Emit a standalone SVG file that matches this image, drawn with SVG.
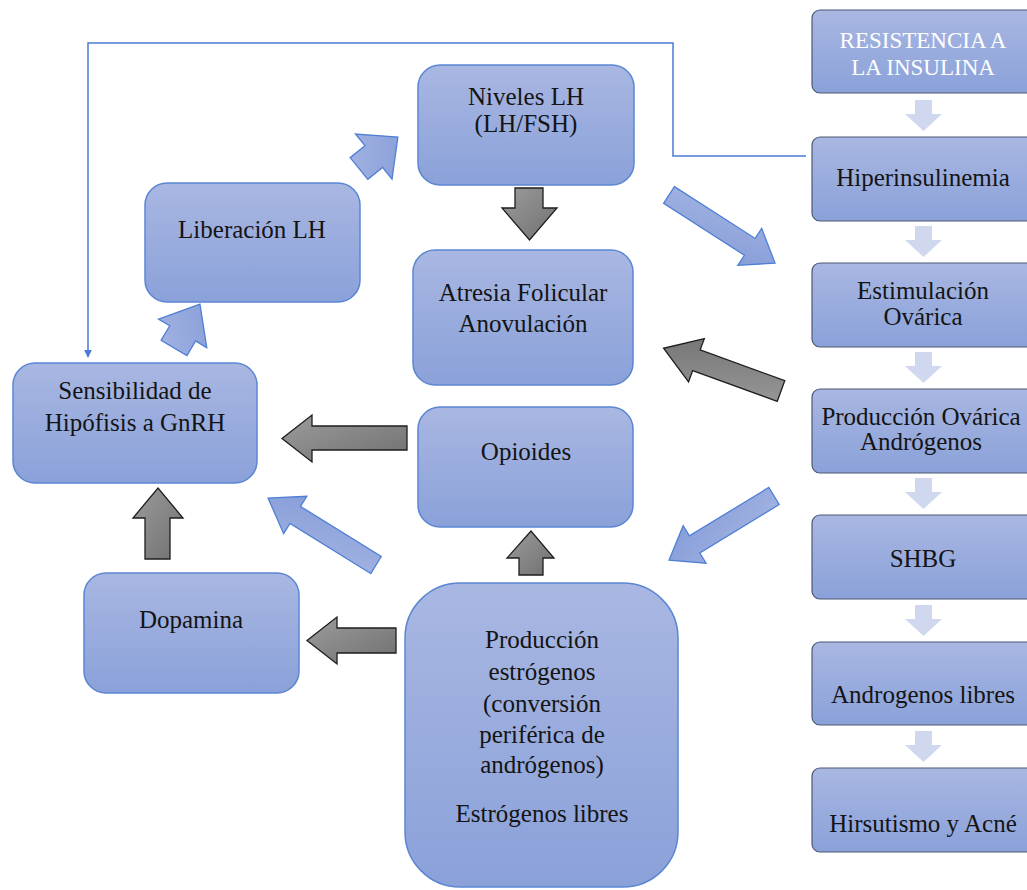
<svg xmlns="http://www.w3.org/2000/svg" width="1027" height="890" viewBox="0 0 1027 890">
<defs>
<linearGradient id="gBox" x1="0" y1="0" x2="0" y2="1">
<stop offset="0" stop-color="#a9b7e2"/>
<stop offset="1" stop-color="#8aa1d9"/>
</linearGradient>
<linearGradient id="gBlue" x1="0" y1="0" x2="1" y2="1">
<stop offset="0" stop-color="#a4b4e2"/>
<stop offset="1" stop-color="#859cd8"/>
</linearGradient>
<linearGradient id="gGray" x1="0" y1="0" x2="1" y2="1">
<stop offset="0" stop-color="#9c9c9c"/>
<stop offset="1" stop-color="#707070"/>
</linearGradient>
<marker id="mArr" viewBox="0 0 10 10" refX="9" refY="5" markerWidth="8" markerHeight="8" markerUnits="userSpaceOnUse" orient="auto">
<path d="M0,0 L10,5 L0,10 z" fill="#4a7bd4"/>
</marker>
<style>
.box{fill:url(#gBox);stroke:#5b86d3;stroke-width:1.5}
.rbox{fill:url(#gBox);stroke:#4d5873;stroke-width:1.2}
.t{font-family:"Liberation Serif","Times New Roman",serif;font-size:25px;fill:#141414;text-anchor:middle}
.tw{font-family:"Liberation Serif","Times New Roman",serif;font-size:23px;fill:#ffffff;text-anchor:middle}
.ga{fill:url(#gGray);stroke:#1e1e1e;stroke-width:1.3;stroke-linejoin:miter}
.ba{fill:url(#gBlue);stroke:#4f7fd5;stroke-width:1.3}
.la{fill:#d0d8ef}
.ln{fill:none;stroke:#4a7bd4;stroke-width:1.5}
</style>
</defs>
<rect width="1027" height="890" fill="#ffffff"/>

<g id="connectors">
<polyline class="ln" points="806,156 673,156 673,43 88,43 88,357" marker-end="url(#mArr)"/>
<polygon class="la" points="915,100 932,100 932,114 942,114 923.5,131 905,114 915,114"/>
<polygon class="la" points="915,226 932,226 932,240 942,240 923.5,257 905,240 915,240"/>
<polygon class="la" points="915,352 932,352 932,366 942,366 923.5,383 905,366 915,366"/>
<polygon class="la" points="915,478 932,478 932,492 942,492 923.5,509 905,492 915,492"/>
<polygon class="la" points="915,605 932,605 932,619 942,619 923.5,636 905,619 915,619"/>
<polygon class="la" points="915,731 932,731 932,745 942,745 923.5,762 905,745 915,745"/>
<polygon class="ga" points="515,188 543,188 543,208 557,208 529.5,240 502,208 515,208"/>
<polygon class="ga" points="407,426 312,426 312,415 282,438.5 312,462 312,450 407,450"/>
<polygon class="ga" points="145,559 145,518 133,518 158,488 183,518 170,518 170,559"/>
<polygon class="ga" points="396,628 337,628 337,617 307,640.5 337,664 337,653 396,653"/>
<polygon class="ga" points="519,575 519,558 507,558 531,531 554,558 543,558 543,575"/>
<polygon class="ga" transform="translate(781,391) rotate(200)" points="0,-11 90,-11 90,-23 125,0 90,23 90,11 0,11"/>
<polygon class="ba" transform="translate(669,195) rotate(32.7)" points="0,-10 96,-10 96,-22 126,0 96,22 96,10 0,10"/>
<polygon class="ba" transform="translate(774,496) rotate(148.6)" points="0,-10 93,-10 93,-22 123,0 93,22 93,10 0,10"/>
<polygon class="ba" transform="translate(376,565) rotate(211.8)" points="0,-10 95,-10 95,-22 127,0 95,22 95,10 0,10"/>
<polygon class="ba" transform="translate(174,348) rotate(-59.4)" points="0,-15 17,-15 17,-28 51,0 17,28 17,15 0,15"/>
<polygon class="ba" transform="translate(359,168.5) rotate(-39)" points="0,-14 19,-14 19,-29 50,0 19,29 19,14 0,14"/>
</g>

<g id="n-resistencia">
<rect class="rbox" x="812" y="10" width="225" height="83" rx="8"/>
<text class="tw" x="923" y="48">RESISTENCIA A</text>
<text class="tw" x="923" y="75">LA INSULINA</text>
</g>
<g id="n-hiperinsulinemia">
<rect class="rbox" x="812" y="137" width="225" height="84" rx="8"/>
<text class="t" x="923" y="186">Hiperinsulinemia</text>
</g>
<g id="n-estimulacion">
<rect class="rbox" x="812" y="263" width="225" height="84" rx="8"/>
<text class="t" x="923" y="299">Estimulación</text>
<text class="t" x="923" y="325">Ovárica</text>
</g>
<g id="n-produccion-ovarica">
<rect class="rbox" x="812" y="389" width="225" height="84" rx="8"/>
<text class="t" x="921" y="425">Producción Ovárica</text>
<text class="t" x="921" y="450">Andrógenos</text>
</g>
<g id="n-shbg">
<rect class="rbox" x="812" y="515" width="225" height="84" rx="8"/>
<text class="t" x="923" y="567">SHBG</text>
</g>
<g id="n-androgenos-libres">
<rect class="rbox" x="812" y="642" width="225" height="83" rx="8"/>
<text class="t" x="923" y="703">Androgenos libres</text>
</g>
<g id="n-hirsutismo">
<rect class="rbox" x="812" y="768" width="225" height="84" rx="8"/>
<text class="t" x="923" y="832">Hirsutismo y Acné</text>
</g>

<g id="n-niveles-lh">
<rect class="box" x="418" y="65" width="216" height="120" rx="22"/>
<text class="t" x="526" y="105">Niveles LH</text>
<text class="t" x="526" y="132">(LH/FSH)</text>
</g>
<g id="n-atresia">
<rect class="box" x="413" y="250" width="220" height="135" rx="22"/>
<text class="t" x="523" y="301">Atresia Folicular</text>
<text class="t" x="523" y="332">Anovulación</text>
</g>
<g id="n-liberacion-lh">
<rect class="box" x="145" y="183" width="215" height="119" rx="22"/>
<text class="t" x="252" y="238">Liberación LH</text>
</g>
<g id="n-sensibilidad">
<rect class="box" x="13" y="363" width="244" height="120" rx="22"/>
<text class="t" x="135" y="399">Sensibilidad de</text>
<text class="t" x="135" y="431">Hipófisis a GnRH</text>
</g>
<g id="n-opioides">
<rect class="box" x="418" y="407" width="215" height="120" rx="22"/>
<text class="t" x="526" y="460">Opioides</text>
</g>
<g id="n-dopamina">
<rect class="box" x="84" y="573" width="215" height="120" rx="22"/>
<text class="t" x="191" y="628">Dopamina</text>
</g>
<g id="n-produccion-estrogenos">
<rect class="box" x="405" y="583" width="273" height="304" rx="55"/>
<text class="t" x="542" y="648">Producción</text>
<text class="t" x="542" y="680">estrógenos</text>
<text class="t" x="542" y="712">(conversión</text>
<text class="t" x="542" y="743">periférica de</text>
<text class="t" x="542" y="773">andrógenos)</text>
<text class="t" x="542" y="822">Estrógenos libres</text>
</g>
</svg>
